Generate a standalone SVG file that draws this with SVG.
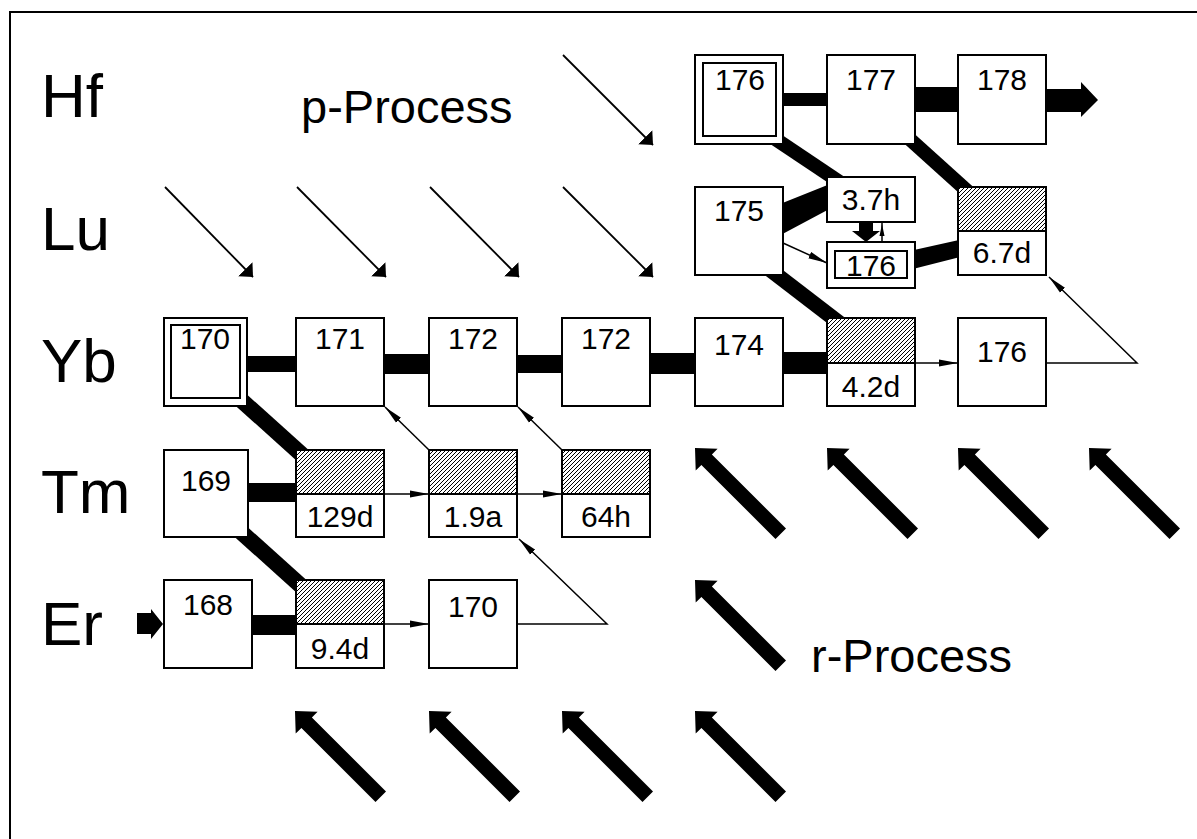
<svg xmlns="http://www.w3.org/2000/svg" width="1197" height="839" viewBox="0 0 1197 839">
<style>
.box{fill:#fff;stroke:#000;stroke-width:2}
.hb{fill:url(#hatch);stroke:#000;stroke-width:2}
.num{font-family:"Liberation Sans",Arial,Helvetica,sans-serif;font-size:30px;text-anchor:middle;fill:#000}
.row{font-family:"Liberation Sans",Arial,Helvetica,sans-serif;font-size:62px;fill:#000}
.proc{font-family:"Liberation Sans",Arial,Helvetica,sans-serif;font-size:47px;fill:#000}
.thin{stroke:#000;stroke-width:1.5;fill:none;marker-end:url(#ah)}
.pth{stroke:#000;stroke-width:1.8;fill:none;marker-end:url(#pa)}
.band{stroke:#000;fill:none;stroke-linecap:butt}
.blk{fill:#000;stroke:none}
</style>
<defs>
<pattern id="hatch" patternUnits="userSpaceOnUse" width="4" height="4">
<rect width="4" height="4" fill="#fff"/>
<path d="M-1,1 L1,-1 M0,4 L4,0 M3,5 L5,3" stroke="#000" stroke-width="1"/>
</pattern>
<marker id="ah" markerUnits="userSpaceOnUse" markerWidth="20" markerHeight="8" viewBox="0 0 20 8" refX="19" refY="4" orient="auto">
<path d="M0,0.5 L19,4 L0,7.5 Z" fill="#000"/>
</marker>
<marker id="pa" markerUnits="userSpaceOnUse" markerWidth="12" markerHeight="22" viewBox="0 -11 12 22" refX="11" refY="0" orient="auto">
<path d="M0,-10 L11,0 L0,10 Z" fill="#000"/>
</marker>
<path id="rarr" d="M0,0 L22.6,0.7 L16.9,6.4 L91,80.5 L80.5,91 L6.4,16.9 L0.7,22.6 Z" fill="#000"/>
</defs>

<rect width="1197" height="839" fill="#fff"/>
<path d="M10,839 V12 H1197" fill="none" stroke="#000" stroke-width="2"/>

<g id="row-labels">
<text class="row" x="41" y="117">Hf</text>
<text class="row" x="41" y="250">Lu</text>
<text class="row" x="41" y="382">Yb</text>
<text class="row" x="41" y="513">Tm</text>
<text class="row" x="41" y="645">Er</text>
</g>
<g id="process-labels">
<text class="proc" x="301" y="123">p-Process</text>
<text class="proc" x="811" y="672">r-Process</text>
</g>

<g id="p-process-arrows">
<line class="pth" x1="563" y1="55" x2="653" y2="145"/>
<line class="pth" x1="165" y1="187" x2="253" y2="277"/>
<line class="pth" x1="297" y1="187" x2="386" y2="277"/>
<line class="pth" x1="430" y1="187" x2="519" y2="277"/>
<line class="pth" x1="563" y1="187" x2="653" y2="277"/>
</g>

<g id="r-process-arrows">
<use href="#rarr" transform="translate(695,448)"/>
<use href="#rarr" transform="translate(827,448)"/>
<use href="#rarr" transform="translate(958,448)"/>
<use href="#rarr" transform="translate(1089,448)"/>
<use href="#rarr" transform="translate(695,580)"/>
<use href="#rarr" transform="translate(295,711)"/>
<use href="#rarr" transform="translate(429,711)"/>
<use href="#rarr" transform="translate(562,711)"/>
<use href="#rarr" transform="translate(695,711)"/>
</g>

<g id="connectors">
<rect class="blk" x="782" y="93" width="46" height="13"/>
<rect class="blk" x="914" y="87" width="45" height="25"/>
<path class="blk" d="M1046,89 H1081 V82 L1098,100 L1081,117 V112 H1046 Z"/>
<line class="band" x1="753" y1="124" x2="862" y2="197" stroke-width="14"/>
<line class="band" x1="893" y1="124" x2="985" y2="207" stroke-width="14"/>
<path class="blk" d="M775,206 L835,182 L835,206 L775,238 Z"/>
<path class="blk" d="M859,222 H873 V231 H880 L866,242 L852,231 H859 Z"/>
<line x1="882" y1="242" x2="882" y2="222" stroke="#000" stroke-width="1.5"/>
<path d="M879.5,236 L882,224 L884.5,236 Z" fill="#000"/>
<path class="blk" d="M905,252 L968,238 L968,255 L905,271 Z"/>
<line class="thin" x1="783" y1="243" x2="827" y2="263"/>
<line class="band" x1="751" y1="255" x2="859" y2="338" stroke-width="15"/>
<rect class="blk" x="246" y="356" width="51" height="16"/>
<rect class="blk" x="383" y="354" width="47" height="20"/>
<rect class="blk" x="516" y="355" width="47" height="18"/>
<rect class="blk" x="649" y="353" width="47" height="21"/>
<rect class="blk" x="782" y="352" width="46" height="22"/>
<line class="thin" x1="915" y1="363" x2="958" y2="363"/>
<path class="thin" d="M1046,363 H1137 L1049,277"/>
<line class="band" x1="230" y1="390" x2="310" y2="462" stroke-width="16"/>
<rect class="blk" x="247" y="483" width="50" height="19"/>
<line class="thin" x1="384" y1="494" x2="429" y2="494"/>
<line class="thin" x1="517" y1="494" x2="562" y2="494"/>
<line class="thin" x1="429" y1="450" x2="385" y2="407"/>
<line class="thin" x1="562" y1="450" x2="518" y2="407"/>
<line class="band" x1="230" y1="522" x2="310" y2="594" stroke-width="16"/>
<rect class="blk" x="251" y="615" width="46" height="20"/>
<path class="blk" d="M137,613 H151 V609 L163,624 L151,639 V634 H137 Z"/>
<line class="thin" x1="384" y1="624" x2="429" y2="624"/>
<path class="thin" d="M517,624 H607 L519,539"/>
</g>

<g id="hf176"><rect class="box" x="695" y="55" width="88" height="89"/><rect class="box" x="703" y="63" width="73" height="73"/><text class="num" x="740" y="90">176</text></g>
<g id="hf177"><rect class="box" x="827" y="55" width="88" height="89"/><text class="num" x="871" y="90">177</text></g>
<g id="hf178"><rect class="box" x="958" y="55" width="88" height="89"/><text class="num" x="1002" y="90">178</text></g>

<g id="lu175"><rect class="box" x="695" y="187" width="88" height="88"/><text class="num" x="739" y="221">175</text></g>
<g id="lu176m"><rect class="box" x="827" y="177" width="88" height="45"/><text class="num" x="871" y="210">3.7h</text></g>
<g id="lu176"><rect class="box" x="827" y="242" width="88" height="46"/><rect class="box" x="835" y="251" width="72" height="27"/><text class="num" x="871" y="276">176</text></g>
<g id="lu177"><rect class="hb" x="958" y="187" width="88" height="44"/><rect class="box" x="958" y="231" width="88" height="44"/><text class="num" x="1002" y="263">6.7d</text></g>

<g id="yb170"><rect class="box" x="164" y="318" width="83" height="88"/><rect class="box" x="171" y="325" width="69" height="73"/><text class="num" x="205" y="349">170</text></g>
<g id="yb171"><rect class="box" x="296" y="318" width="88" height="88"/><text class="num" x="340" y="349">171</text></g>
<g id="yb172"><rect class="box" x="429" y="318" width="88" height="88"/><text class="num" x="473" y="349">172</text></g>
<g id="yb173"><rect class="box" x="562" y="318" width="88" height="88"/><text class="num" x="606" y="349">172</text></g>
<g id="yb174"><rect class="box" x="695" y="318" width="88" height="88"/><text class="num" x="739" y="355">174</text></g>
<g id="yb175"><rect class="hb" x="827" y="318" width="88" height="45"/><rect class="box" x="827" y="363" width="88" height="43"/><text class="num" x="871" y="397">4.2d</text></g>
<g id="yb176"><rect class="box" x="958" y="318" width="88" height="88"/><text class="num" x="1002" y="362">176</text></g>

<g id="tm169"><rect class="box" x="164" y="450" width="84" height="87"/><text class="num" x="206" y="491">169</text></g>
<g id="tm170"><rect class="hb" x="296" y="450" width="88" height="44"/><rect class="box" x="296" y="494" width="88" height="43"/><text class="num" x="340" y="527">129d</text></g>
<g id="tm171"><rect class="hb" x="429" y="450" width="88" height="44"/><rect class="box" x="429" y="494" width="88" height="43"/><text class="num" x="473" y="527">1.9a</text></g>
<g id="tm172"><rect class="hb" x="562" y="450" width="88" height="44"/><rect class="box" x="562" y="494" width="88" height="43"/><text class="num" x="606" y="527">64h</text></g>

<g id="er168"><rect class="box" x="164" y="580" width="88" height="88"/><text class="num" x="208" y="615">168</text></g>
<g id="er169"><rect class="hb" x="296" y="580" width="88" height="44"/><rect class="box" x="296" y="624" width="88" height="44"/><text class="num" x="340" y="659">9.4d</text></g>
<g id="er170"><rect class="box" x="429" y="580" width="88" height="88"/><text class="num" x="473" y="617">170</text></g>
</svg>
